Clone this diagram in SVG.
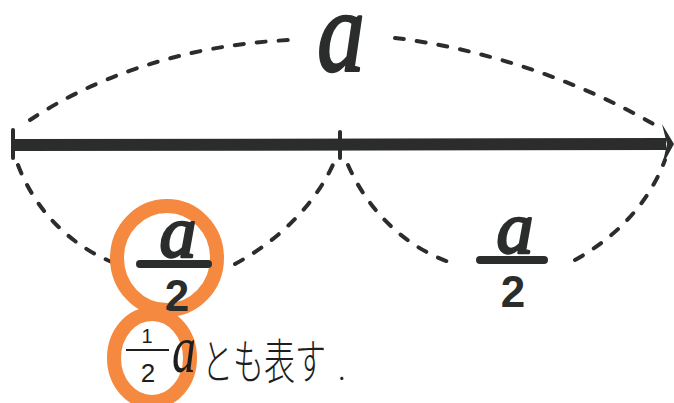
<svg xmlns="http://www.w3.org/2000/svg" width="674" height="403" viewBox="0 0 674 403">
<style>
.ink{fill:#2a2d2b}
.dash{fill:none;stroke:#2a2d2b;stroke-width:4;stroke-dasharray:9 13;stroke-linecap:round}
.main{fill:none;stroke:#2a2d2b;stroke-width:12;stroke-linecap:butt}
.tick{fill:none;stroke:#2a2d2b;stroke-width:4;stroke-linecap:round}
.bar{fill:none;stroke:#2a2d2b;stroke-width:8;stroke-linecap:round}
.hl{fill:none;stroke:#F5893F;stroke-width:14}
.va{font-family:"Liberation Serif",serif;font-style:italic;fill:#2a2d2b;stroke:#2a2d2b;stroke-width:2.5;stroke-linejoin:round;text-anchor:middle}
.two{font-family:"Liberation Sans",sans-serif;font-weight:bold;fill:#2a2d2b;text-anchor:middle}
.small{font-family:"Liberation Sans",sans-serif;fill:#1e1e1e;text-anchor:middle}
.jp{font-family:"Noto Sans CJK JP","Noto Sans",sans-serif;font-weight:300;fill:#1e1e1e}
</style>
<rect width="674" height="403" fill="#ffffff"/>
<g id="connectors">
  <path class="main" d="M13,145 L666,144"/>
  <path class="tick" d="M13,130 L13,158"/>
  <path class="tick" d="M340,132 L340,158"/>
  <path class="ink" d="M674,144 L662,124 L667,144 L662,166 Z"/>
  <path class="dash" d="M30,120 C90,80 180,45 290,40"/>
  <path class="dash" d="M395,38 C480,48 580,80 660,128"/>
  <path class="dash" d="M18,165 C35,210 70,245 112,262"/>
  <path class="dash" d="M235,264 C280,240 320,200 337,155"/>
  <path class="dash" d="M348,165 C370,215 410,250 455,264"/>
  <path class="dash" d="M575,260 C620,235 650,200 665,160"/>
</g>
<g id="top-label">
  <text class="va" font-size="116" stroke-width="4" transform="translate(341,71) scale(0.82,1)" x="0" y="0">a</text>
</g>
<g id="left-label">
  <ellipse class="hl" cx="167" cy="258" rx="50" ry="52"/>
  <text class="va" font-size="74" x="178" y="257">a</text>
  <path class="bar" d="M140,264 L208,264"/>
  <text class="two" font-size="44" x="177" y="311">2</text>
</g>
<g id="right-label">
  <text class="va" font-size="74" x="515" y="253">a</text>
  <path class="bar" d="M480,260 L544,260"/>
  <text class="two" font-size="44" x="513" y="307">2</text>
</g>
<g id="note">
  <ellipse class="hl" cx="152" cy="358" rx="38" ry="44" stroke-width="13"/>
  <text class="small" font-size="20" x="147" y="343">1</text>
  <path d="M126,350 L169,350" stroke="#1e1e1e" stroke-width="2" fill="none"/>
  <text class="small" font-size="26" x="148" y="382">2</text>
  <text font-family="Liberation Serif,serif" font-style="italic" font-size="48" fill="#1e1e1e" transform="translate(184,372) scale(1,1.4)" x="0" y="0" text-anchor="middle">a</text>
  <text class="jp" font-size="38" transform="translate(202,379) scale(1,1.25)" x="0" y="0" textLength="124" lengthAdjust="spacingAndGlyphs">とも表す</text>
  <text class="jp" font-size="30" x="338" y="380">.</text>
</g>
</svg>
